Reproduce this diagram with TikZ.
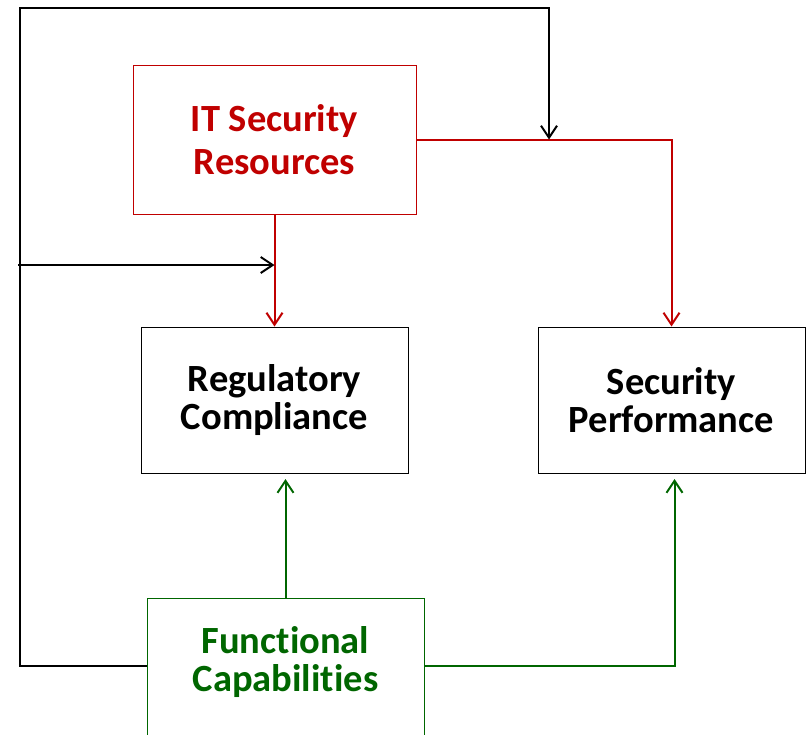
\documentclass[tikz,border=0pt]{standalone}
\usepackage{fontspec}
\setmainfont[Ligatures=NoCommon]{Carlito}
\usetikzlibrary{arrows.meta}
\definecolor{itred}{HTML}{C00000}
\definecolor{fgreen}{HTML}{006600}
\tikzset{
  box/.style={draw, line width=1pt, rectangle, inner sep=0pt, align=center,
    font=\fontsize{38.5}{38.5}\selectfont\bfseries},
  tip/.style={-{Straight Barb[length=12pt,width=16pt,line width=2pt]}},
  redline/.style={draw=itred, line width=2pt},
  greenline/.style={draw=fgreen, line width=2pt},
  blackline/.style={draw=black, line width=2pt},
}
\begin{document}
\begin{tikzpicture}[x=1pt,y=-1pt]
\useasboundingbox (0,0) rectangle (809,734);
\clip (0,0) rectangle (809,734);
\node[box, draw=itred, text=itred, minimum width=283pt, minimum height=149pt,
  font=\fontsize{38.5}{42.5}\selectfont\bfseries] (it) at (274.5,139.5) {IT Security\\Resources};
\node[box, minimum width=267pt, minimum height=146pt] (reg) at (274.5,400) {Regulatory\\Compliance};
\node[box, minimum width=267pt, minimum height=146pt] (sec) at (671.5,400) {Security\\Performance};
\node[box, draw=fgreen, anchor=north, minimum width=277pt, minimum height=170pt] (func) at (285.5,598) {};
\node[box, draw=none, text=fgreen] (functext) at (285.5,662) {Functional\\Capabilities};
\coordinate (topjoin) at (549,139.5);
\coordinate (leftjoin) at (274.5,265);
\coordinate (leftstart) at (18,265);
\coordinate (regin) at (285.5,479);
\coordinate (secin) at (674.5,479);
% red connectors
\draw[redline, tip] (it.south) -- (reg.north);
\draw[redline, tip] (it.east) -| (sec.north);
% green connectors
\draw[greenline, tip] (func.north) -- (regin);
\draw[greenline, tip] (func.east |- 0,666) -| (secin);
% black feedback loop
\draw[blackline, tip] (func.west |- 0,666) -- (20,666) -- (20,8) -| (topjoin);
\draw[blackline, tip] (leftstart) -- (leftjoin);
\end{tikzpicture}
\end{document}
